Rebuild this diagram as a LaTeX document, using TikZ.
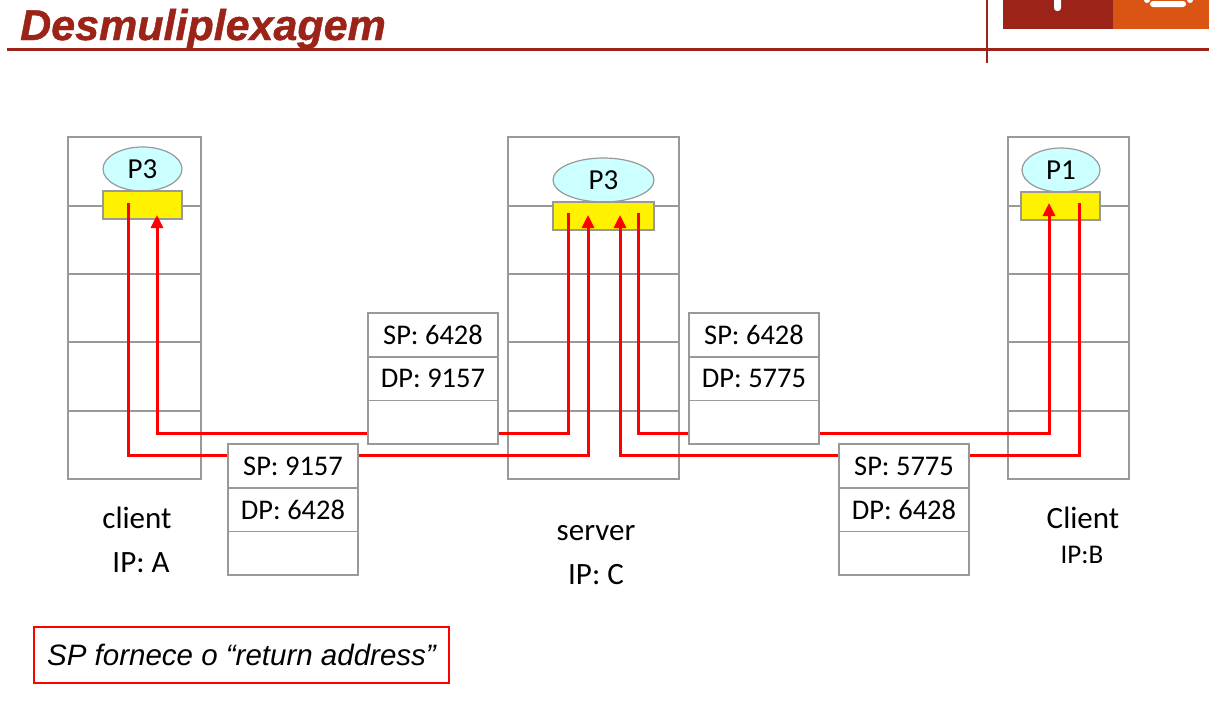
\documentclass[tikz,border=0pt]{standalone}
\usepackage{fontspec}
\setmainfont{Carlito}
\newfontfamily\arialfont{Liberation Sans}
\newfontfamily\titlefont{Liberation Sans}[BoldItalicFeatures={FakeBold=1}]
\usetikzlibrary{arrows.meta,shapes.geometric}
\definecolor{tred}{HTML}{9B2318}
\definecolor{torange}{HTML}{DA5414}
\definecolor{boxgray}{HTML}{999999}
\definecolor{pcyan}{HTML}{CCFFFF}
\tikzset{
  host/.style={draw=boxgray, line width=1.5pt, fill=white, inner sep=0pt},
  gridline/.style={draw=boxgray, line width=1.5pt},
  proc/.style={ellipse, draw=boxgray, line width=1.2pt, fill=pcyan, inner sep=0pt,
    font=\fontsize{29}{30}\selectfont},
  sock/.style={rectangle, draw=boxgray, line width=1.2pt, fill=yellow, inner sep=0pt},
  cell/.style={rectangle, draw=boxgray, line width=1.5pt, fill=white, inner sep=0pt,
    minimum width=130pt, minimum height=43.67pt, font=\fontsize{28.5}{30}\selectfont},
  flow/.style={draw=red, line width=3pt},
  flowarrow/.style={flow, -{Triangle[width=12pt,length=13pt]}},
  hostlabel/.style={anchor=base, inner sep=0pt, font=\fontsize{31}{34}\selectfont},
}
\begin{document}
\begin{tikzpicture}[x=1pt,y=-1pt]
\useasboundingbox (0,0) rectangle (1209,723);
\fill[white] (0,0) rectangle (1209,723);

% ---- header ----
\node[anchor=base west, inner sep=0pt, text=tred,
  font=\titlefont\bfseries\itshape\fontsize{43}{46}\selectfont] (title) at (20,40) {Desmuliplexagem};
\draw[tred, line width=2.5pt] (7,49.5) -- (1209,49.5);
\draw[tred, line width=2pt] (987,0) -- (987,63);
\fill[tred] (1003,0) rectangle (1113,29);
\fill[torange] (1113,0) rectangle (1209,29);
\fill[white, rounded corners=3pt] (1054,-5) rectangle (1061,11);
\fill[white, rounded corners=3pt] (1150,1) rectangle (1186,7);
\fill[white] (1147,0) circle (3pt);
\fill[white] (1190,0) circle (3pt);

% ---- hosts ----
\node[host, minimum width=133pt, minimum height=342pt] (hA) at (134.5,308) {};
\node[host, minimum width=171pt, minimum height=342pt] (hC) at (593.5,308) {};
\node[host, minimum width=121pt, minimum height=342pt] (hB) at (1068.5,308) {};
\foreach \h in {hA,hC,hB}{
  \foreach \yy in {206,274,342,411}{
    \draw[gridline] (\h.west |- 0,\yy) -- (\h.east |- 0,\yy);
  }
}

% processes and sockets
\node[proc, minimum width=79pt, minimum height=44pt] (pA) at (142.5,169) {P3};
\node[sock, minimum width=79pt, minimum height=28pt] (sA) at (142.5,205) {};
\node[proc, minimum width=101pt, minimum height=44pt] (pC) at (603.5,180) {P3};
\node[sock, minimum width=101pt, minimum height=28pt] (sC) at (603.5,216) {};
\node[proc, minimum width=78pt, minimum height=44pt] (pB) at (1061,170) {P1};
\node[sock, minimum width=79pt, minimum height=28pt] (sB) at (1060.5,206) {};

% ---- flows ----
\coordinate (a1) at (128,203);
\coordinate (a2) at (157,215);
\coordinate (c1) at (568,213);
\coordinate (c2) at (588,215);
\coordinate (c3) at (620,215);
\coordinate (c4) at (638,213);
\coordinate (b1) at (1049,203);
\coordinate (b2) at (1079,203);

\draw[flowarrow] (a1) -- (a1 |- 0,455) -- (c2 |- 0,455) -- (c2);
\draw[flowarrow] (c1) -- (c1 |- 0,433) -- (a2 |- 0,433) -- (a2);
\draw[flowarrow] (c4) -- (c4 |- 0,433) -- (b1 |- 0,433) -- (b1);
\draw[flowarrow] (b2) -- (b2 |- 0,455) -- (c3 |- 0,455) -- (c3);

% ---- segments ----
\node[cell] (s1sp) at (433,335) {SP: 6428};
\node[cell] (s1dp) at (433,378.67) {DP: 9157};
\node[cell] (s1d)  at (433,422.33) {};
\node[cell] (s2sp) at (754,335) {SP: 6428};
\node[cell] (s2dp) at (754,378.67) {DP: 5775};
\node[cell] (s2d)  at (754,422.33) {};
\node[cell] (s3sp) at (293,466) {SP: 9157};
\node[cell] (s3dp) at (293,509.67) {DP: 6428};
\node[cell] (s3d)  at (293,553.33) {};
\node[cell] (s4sp) at (904,466) {SP: 5775};
\node[cell] (s4dp) at (904,509.67) {DP: 6428};
\node[cell] (s4d)  at (904,553.33) {};

% ---- labels ----
\node[hostlabel] (lA1) at (137,528) {client};
\node[hostlabel] (lA2) at (141,572) {IP: A};
\node[hostlabel] (lC1) at (596,540) {server};
\node[hostlabel] (lC2) at (596,584) {IP: C};
\node[hostlabel] (lB1) at (1083,528) {Client};
\node[hostlabel, font=\fontsize{27}{30}\selectfont] (lB2) at (1082,563) {IP:B};

% ---- note ----
\node[draw=red, line width=1.2pt, minimum width=415pt, minimum height=56pt, inner sep=0pt,
  font=\arialfont\itshape\fontsize{29.5}{32}\selectfont] (note) at (241.5,655) {SP fornece o “return address”};
\end{tikzpicture}
\end{document}
